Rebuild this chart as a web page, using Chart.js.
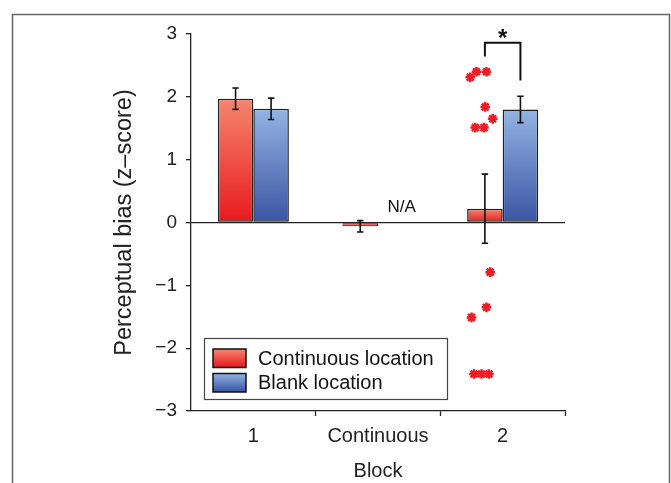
<!DOCTYPE html>
<html>
<head>
<meta charset="utf-8">
<script src="https://cdn.jsdelivr.net/npm/chart.js@4/dist/chart.umd.min.js"></script>
<style>
  html, body { margin: 0; padding: 0; background: #ffffff; }
  #wrap { width: 671px; height: 483px; position: relative; }
</style>
</head>
<body>
<div id="wrap"><canvas id="c" width="671" height="483"></canvas></div>
<script>
// ---- data ----
const categories = ['1', 'Continuous', '2'];
const seriesNames = ['Continuous location', 'Blank location'];
const continuousValues = [1.97, -0.06, 0.22];
const continuousErrors = [0.17, 0.09, 0.55];
const blankValues = [1.81, null, 1.80];
const blankErrors = [0.17, null, 0.21];
const yMin = -3, yMax = 3, yStep = 1;
const axisTitleY = 'Perceptual bias (z\u2013score)';
const axisTitleX = 'Block';
// individual participants, block 2 (x = position along the category axis, y = z-score)
const individualX = [1.74, 1.79, 1.87, 1.86, 1.92, 1.78, 1.85, 1.90, 1.87, 1.75, 1.77, 1.83, 1.89];
const individualY = [2.31, 2.40, 2.40, 1.84, 1.65, 1.51, 1.51, -0.79, -1.35, -1.51, -2.41, -2.41, -2.41];
// annotations
const naLabel = 'N/A';
const naCategory = 1;
const naValue = 0.16;
const sigCategory = 2;
const sigLabel = '*';
const sigTop = 2.86;
const sigLeftEnd = 2.64;
const sigRightEnd = 2.26;

// ---- styles ----
const FONT = "'Liberation Sans', Arial, sans-serif";
const redTop = '#f5866f', redBottom = '#e8191e';
const blueTop = '#93b4e4', blueBottom = '#3a55a3';

function gradientFor(ctx, top, bottom) {
  const chart = ctx.chart;
  const ys = chart.scales && chart.scales.y;
  if (!chart.chartArea || !ys || ctx.type !== 'data') return bottom;
  const v = ctx.raw;
  if (v === null || v === undefined) return bottom;
  const p1 = ys.getPixelForValue(v), p0 = ys.getPixelForValue(0);
  const a = Math.min(p0, p1), b = Math.max(p0, p1);
  if (b - a < 1) return top;
  const g = chart.ctx.createLinearGradient(0, a, 0, b);
  g.addColorStop(0, top);
  g.addColorStop(1, bottom);
  return g;
}

const errorBars = {
  id: 'errorBars',
  afterDatasetsDraw(chart) {
    const ctx = chart.ctx, ys = chart.scales.y;
    const errs = [continuousErrors, blankErrors];
    const vals = [continuousValues, blankValues];
    ctx.save();
    ctx.strokeStyle = '#111';
    ctx.lineWidth = 1.6;
    for (let d = 0; d < 2; d++) {
      const meta = chart.getDatasetMeta(d);
      meta.data.forEach((el, i) => {
        const v = vals[d][i], e = errs[d][i];
        if (v === null || e === null) return;
        const x = el.x;
        const t = ys.getPixelForValue(v + e), b = ys.getPixelForValue(v - e);
        ctx.beginPath();
        ctx.moveTo(x, t); ctx.lineTo(x, b);
        ctx.moveTo(x - 3.2, t); ctx.lineTo(x + 3.2, t);
        ctx.moveTo(x - 3.2, b); ctx.lineTo(x + 3.2, b);
        ctx.stroke();
      });
    }
    ctx.restore();
  }
};

const annotations = {
  id: 'annotations',
  beforeDraw(chart) {
    const ctx = chart.ctx;
    ctx.save();
    ctx.strokeStyle = '#666';
    ctx.lineWidth = 1.5;
    ctx.strokeRect(12.5, 14.5, 657, 520);
    ctx.restore();
  },
  afterDraw(chart) {
    const ctx = chart.ctx, ys = chart.scales.y, area = chart.chartArea;
    ctx.save();
    // N/A label
    const naEl = chart.getDatasetMeta(1).data[naCategory];
    ctx.fillStyle = '#111';
    ctx.font = '17px ' + FONT;
    ctx.textAlign = 'center';
    ctx.textBaseline = 'alphabetic';
    ctx.fillText(naLabel, naEl.x + 6, ys.getPixelForValue(naValue));
    // significance bracket
    const xl = chart.getDatasetMeta(0).data[sigCategory].x;
    const xr = chart.getDatasetMeta(1).data[sigCategory].x;
    const yt = ys.getPixelForValue(sigTop);
    ctx.strokeStyle = '#111';
    ctx.lineWidth = 2;
    ctx.beginPath();
    ctx.moveTo(xl, ys.getPixelForValue(sigLeftEnd));
    ctx.lineTo(xl, yt);
    ctx.lineTo(xr, yt);
    ctx.lineTo(xr, ys.getPixelForValue(sigRightEnd));
    ctx.stroke();
    ctx.font = 'bold 24px ' + FONT;
    ctx.textBaseline = 'middle';
    ctx.fillText(sigLabel, (xl + xr) / 2, yt - 3);
    // legend
    const bx = area.left + 13, bw = 243, bh = 61, by = area.bottom - 12 - bh;
    ctx.fillStyle = '#ffffff';
    ctx.fillRect(bx, by, bw, bh);
    ctx.strokeStyle = '#444';
    ctx.lineWidth = 1.2;
    ctx.strokeRect(bx + 0.5, by + 0.5, bw, bh);
    const sw = [[redTop, redBottom], [blueTop, blueBottom]];
    seriesNames.forEach((name, i) => {
      const cy = by + 20 + i * 24.5;
      const g = ctx.createLinearGradient(0, cy - 9, 0, cy + 9);
      g.addColorStop(0, sw[i][0]);
      g.addColorStop(1, sw[i][1]);
      ctx.fillStyle = g;
      ctx.fillRect(bx + 9, cy - 9, 33, 18.5);
      ctx.strokeStyle = '#111';
      ctx.lineWidth = 1.5;
      ctx.strokeRect(bx + 9, cy - 9, 33, 18.5);
      ctx.fillStyle = '#111';
      ctx.font = '20px ' + FONT;
      ctx.textAlign = 'left';
      ctx.textBaseline = 'middle';
      ctx.fillText(name, bx + 54, cy + 1);
    });
    ctx.restore();
  }
};

const scatterData = individualX.map((x, i) => ({ x: x, y: individualY[i] }));

new Chart(document.getElementById('c'), {
  type: 'bar',
  data: {
    labels: categories,
    datasets: [
      {
        label: seriesNames[0],
        data: continuousValues,
        backgroundColor: (c) => gradientFor(c, redTop, redBottom),
        borderColor: '#222',
        borderWidth: (c) => (c.raw !== null && Math.abs(c.raw) < 0.1) ? 1 : 1.5,
        borderSkipped: false,
        categoryPercentage: 0.57,
        barPercentage: 1.0
      },
      {
        label: seriesNames[1],
        data: blankValues,
        backgroundColor: (c) => gradientFor(c, blueTop, blueBottom),
        borderColor: '#222',
        borderWidth: 1.5,
        borderSkipped: false,
        categoryPercentage: 0.57,
        barPercentage: 1.0
      },
      {
        type: 'scatter',
        label: 'individual',
        data: scatterData,
        parsing: false,
        pointStyle: 'star',
        pointRadius: 4.8,
        borderColor: '#ee1c25',
        backgroundColor: '#ee1c25',
        borderWidth: 2.5
      }
    ]
  },
  options: {
    responsive: false,
    animation: false,
    devicePixelRatio: 1,
    layout: { padding: { left: 0, right: 106, top: 34, bottom: 0 } },
    plugins: { legend: { display: false }, tooltip: { enabled: false } },
    scales: {
      x: {
        type: 'category',
        position: 'bottom',
        offset: true,
        afterFit(s) { s.height = 72; },
        border: { display: true, color: '#222', width: 1.3 },
        grid: {
          offset: true,
          drawOnChartArea: false,
          drawTicks: true,
          tickLength: 5,
          tickWidth: 1.3,
          tickColor: (c) => (c.index === 0 || c.index === categories.length) ? 'rgba(0,0,0,0)' : '#222'
        },
        ticks: { color: '#222', font: { family: FONT, size: 20 }, padding: 8, maxRotation: 0 },
        title: { display: true, text: axisTitleX, color: '#222', font: { family: FONT, size: 20 }, padding: { top: 0, bottom: 0 } }
      },
      y: {
        type: 'linear',
        min: yMin, max: yMax,
        afterFit(s) { s.width = 191; },
        border: { display: true, color: '#222', width: 1.3 },
        grid: {
          drawTicks: true,
          tickLength: 5,
          tickWidth: 1.3,
          tickColor: '#222',
          lineWidth: 1.3,
          color: (c) => (c.tick && c.tick.value === 0) ? '#222' : 'rgba(0,0,0,0)'
        },
        ticks: {
          stepSize: yStep,
          color: '#222',
          font: { family: FONT, size: 19 },
          padding: 9,
          callback: (v) => String(v).replace('-', '\u2212')
        },
        title: { display: true, text: axisTitleY, color: '#222', font: { family: FONT, size: 23.5 }, padding: { top: 110, bottom: 0 } }
      }
    }
  },
  plugins: [errorBars, annotations]
});
</script>
</body>
</html>
